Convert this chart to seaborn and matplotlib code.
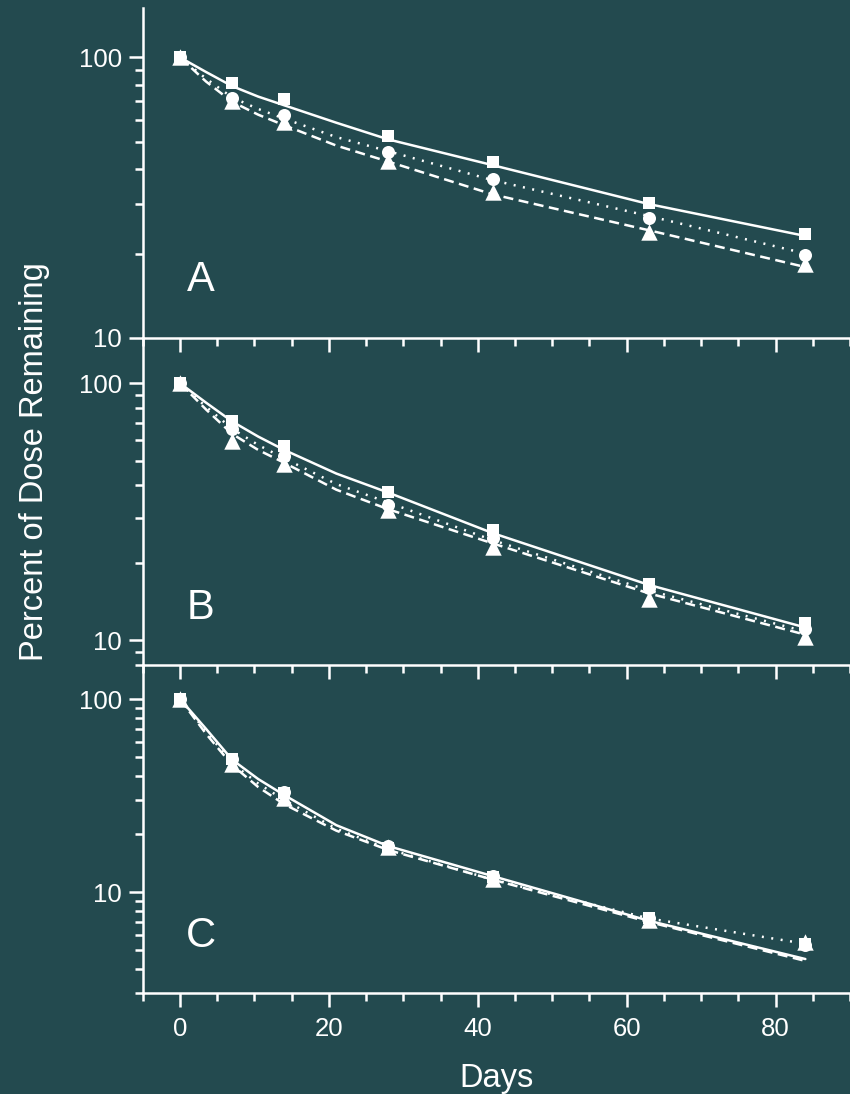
import numpy as np
import matplotlib
matplotlib.use("Agg")
import matplotlib.pyplot as plt
from matplotlib.ticker import LogLocator, NullFormatter, FixedLocator, MultipleLocator
import seaborn as sns

days = [0, 7, 14, 28, 42, 63, 84]
fit_days = [0, 3.5, 7, 10.5, 14, 21, 28, 42, 63, 84]

panel_labels = ["A", "B", "C"]
y_limits = [(10, 150), (8, 150), (3, 150)]

# measured points (percent of dose remaining)
a_squares = [100, 80.8, 70.9, 52.4, 42.3, 30.2, 23.4]
a_circles = [100, 71.4, 62.2, 45.9, 36.8, 26.7, 19.7]
a_triangles = [100, 69.7, 58.8, 42.9, 33.1, 23.8, 18.3]

b_squares = [100, 71.4, 57.2, 37.6, 26.8, 16.6, 11.7]
b_circles = [100, 66.4, 52.3, 33.5, 25.0, 16.0, 11.0]
b_triangles = [100, 59.7, 48.7, 32.0, 23.1, 14.5, 10.3]

c_squares = [100, 49.0, 32.5, 17.0, 12.0, 7.3, 5.4]
c_circles = [100, 48.9, 33.0, 17.3, 12.1, 7.3, 5.3]
c_triangles = [100, 46.0, 30.7, 17.1, 11.7, 7.2, 5.5]

# fitted curves
a_fit_solid = [100, 88.7, 79, 72.5, 67.5, 58.5, 51, 41.3, 30, 23.1]
a_fit_dotted = [100, 84, 72, 65.5, 60.5, 52, 46.3, 36.5, 27.2, 20.0]
a_fit_dashed = [100, 82, 69.5, 62.5, 57.3, 48.5, 42.5, 32.5, 24.2, 17.9]

b_fit_solid = [100, 84, 71, 62, 55, 44.5, 37.5, 26.1, 16.4, 11.2]
b_fit_dotted = [100, 81, 66.5, 57.5, 51, 40.5, 34.3, 24.5, 15.6, 10.8]
b_fit_dashed = [100, 79, 63.5, 55, 49, 38.5, 32.3, 23.8, 15.2, 10.5]

c_fit_solid = [100, 70, 48.5, 38.5, 31.8, 22.2, 17.3, 12.1, 7.1, 4.5]
c_fit_dotted = [100, 68, 46.5, 36.5, 30, 21.3, 16.7, 11.6, 7.3, 5.4]
c_fit_dashed = [100, 66, 45.5, 35, 28.5, 20.8, 16.5, 11.6, 7.0, 4.4]

points = [
    (a_squares, a_circles, a_triangles),
    (b_squares, b_circles, b_triangles),
    (c_squares, c_circles, c_triangles),
]
fits = [
    (a_fit_solid, a_fit_dotted, a_fit_dashed),
    (b_fit_solid, b_fit_dotted, b_fit_dashed),
    (c_fit_solid, c_fit_dotted, c_fit_dashed),
]

BG = "#234a4f"
FG = "white"

sns.set_theme(style="ticks", rc={
    "figure.facecolor": BG,
    "axes.facecolor": "none",
    "axes.edgecolor": FG,
    "axes.linewidth": 1.8,
    "xtick.color": FG,
    "ytick.color": FG,
    "text.color": FG,
})
plt.rcParams["font.family"] = ["Liberation Sans", "DejaVu Sans"]

fig, axes = plt.subplots(
    3, 1, figsize=(8.5, 10.94), dpi=100, sharex=True,
    gridspec_kw=dict(left=0.168, right=1.0, bottom=0.0923, top=0.9927,
                     hspace=0, height_ratios=[330, 327, 328]),
)

line_styles = ["-", (0, (0.8, 3)), (0, (4, 2.2))]
markers = [("s", 72), ("o", 88), ("^", 140)]

for i, ax in enumerate(axes):
    ax.set_facecolor("none")
    for fit, ls in zip(fits[i], line_styles):
        sns.lineplot(x=fit_days, y=fit, ax=ax, color=FG, linewidth=1.8,
                     linestyle=ls, sort=False, zorder=2)
    for vals, (m, s) in zip(points[i], markers):
        sns.scatterplot(x=days, y=vals, ax=ax, marker=m, s=s, color=FG,
                        edgecolor=FG, linewidth=0, zorder=3)

    ax.set_yscale("log")
    ax.set_ylim(*y_limits[i])
    ax.set_xlim(-5, 90)
    ax.yaxis.set_major_locator(FixedLocator([10, 100]))
    ax.set_yticklabels(["10", "100"])
    ax.yaxis.set_minor_locator(LogLocator(base=10, subs=np.arange(2, 10)))
    ax.yaxis.set_minor_formatter(NullFormatter())
    ax.xaxis.set_major_locator(MultipleLocator(20))
    ax.xaxis.set_minor_locator(MultipleLocator(5))

    sns.despine(ax=ax, top=True, right=True)
    ax.tick_params(axis="both", which="major", direction="out", length=10,
                   width=1.8, colors=FG, labelsize=18.5)
    ax.tick_params(axis="both", which="minor", direction="out", length=5.5,
                   width=1.8, colors=FG)
    ax.tick_params(axis="y", which="major", pad=5)
    ax.tick_params(axis="x", which="major", pad=7)
    ax.set_xlabel("")
    ax.set_ylabel("")
    ax.text(0.082, 0.175, panel_labels[i], transform=ax.transAxes,
            fontsize=30, ha="center", va="center", color=FG)

fig.text(0.041, 0.578, "Percent of Dose Remaining", rotation=90,
         fontsize=23.5, ha="center", va="center", color=FG)
fig.text(0.584, 0.0146, "Days", fontsize=23.5, ha="center", va="center",
         color=FG)

fig.savefig("out.png", dpi=100, facecolor=BG)
